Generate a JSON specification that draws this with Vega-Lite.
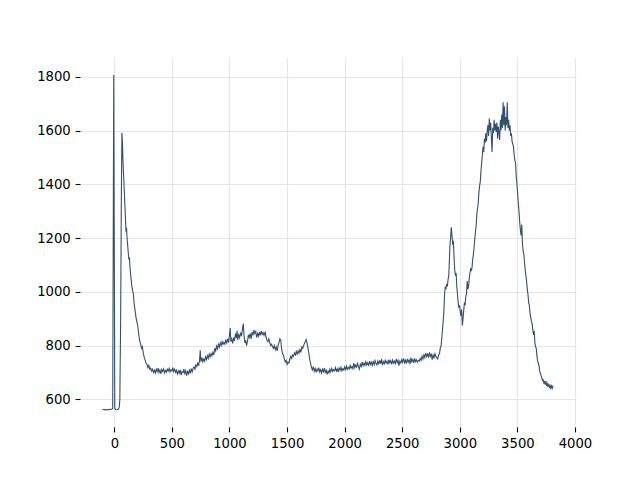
{
"$schema": "https://vega.github.io/schema/vega-lite/v6.json",
"width": 496, "height": 369,
"autosize": {"type": "none"},
"padding": {"left": 80, "top": 58, "right": 64, "bottom": 53},
"background": "white",
"config": {
 "view": {"stroke": null},
 "axis": {"domain": false, "grid": true, "gridColor": "#e6e6e6", "gridWidth": 1.1, "tickSize": 4.9, "tickWidth": 1.1, "tickColor": "#000000", "labelFont": "DejaVu Sans", "labelFontSize": 13.2, "labelColor": "#000000", "labelPadding": 4.9, "title": null, "format": "d"},
 "axisX": {"labelPadding": 5.5}
},
"data": {"values": [
{"x":-102,"y":561},{"x":-90,"y":563},{"x":-78,"y":560},{"x":-66,"y":562},{"x":-54,"y":561},{"x":-42,"y":563},{"x":-30,"y":562},{"x":-20,"y":564},{"x":-14,"y":566},{"x":-5,"y":1807},{"x":4,"y":566},{"x":12,"y":562},{"x":20,"y":561},{"x":28,"y":562},{"x":36,"y":564},{"x":43,"y":570},{"x":48,"y":600},{"x":55,"y":900},{"x":61,"y":1350},{"x":66,"y":1592},{"x":70,"y":1560},{"x":75,"y":1490},{"x":82,"y":1420},{"x":90,"y":1340},{"x":97,"y":1270},{"x":102,"y":1222},{"x":106,"y":1238},{"x":110,"y":1205},{"x":118,"y":1162},{"x":126,"y":1120},{"x":132,"y":1128},{"x":136,"y":1090},{"x":145,"y":1050},{"x":152,"y":1022},{"x":160,"y":1002},{"x":166,"y":992},{"x":172,"y":955},{"x":180,"y":932},{"x":188,"y":905},{"x":196,"y":888},{"x":204,"y":872},{"x":212,"y":842},{"x":220,"y":818},{"x":228,"y":806},{"x":236,"y":790},{"x":244,"y":796},{"x":252,"y":770},{"x":260,"y":756},{"x":268,"y":746},{"x":276,"y":734},{"x":284,"y":730},{"x":292,"y":718},{"x":300,"y":726},{"x":308,"y":712},{"x":316,"y":716},{"x":324,"y":705},{"x":332,"y":712},{"x":340,"y":700},{"x":348,"y":708},
{"x":356,"y":698},{"x":364,"y":712},{"x":372,"y":703},{"x":380,"y":716},{"x":388,"y":700},{"x":396,"y":709},{"x":404,"y":695},{"x":412,"y":711},{"x":420,"y":704},{"x":428,"y":713},{"x":436,"y":698},{"x":444,"y":707},{"x":452,"y":701},{"x":460,"y":712},{"x":468,"y":705},{"x":476,"y":715},{"x":484,"y":702},{"x":492,"y":710},{"x":500,"y":706},{"x":508,"y":718},{"x":516,"y":703},{"x":524,"y":712},{"x":532,"y":700},{"x":540,"y":708},{"x":548,"y":694},{"x":556,"y":705},{"x":564,"y":697},{"x":572,"y":710},{"x":580,"y":690},{"x":588,"y":703},{"x":596,"y":699},{"x":604,"y":712},{"x":612,"y":696},{"x":620,"y":706},{"x":628,"y":688},{"x":636,"y":703},{"x":644,"y":695},{"x":652,"y":708},{"x":660,"y":697},{"x":668,"y":714},{"x":676,"y":702},{"x":684,"y":716},
{"x":692,"y":720},{"x":700,"y":712},{"x":708,"y":728},{"x":716,"y":722},{"x":724,"y":735},{"x":732,"y":725},{"x":740,"y":745},{"x":746,"y":782},{"x":752,"y":740},{"x":760,"y":755},{"x":768,"y":740},{"x":776,"y":750},{"x":784,"y":742},{"x":792,"y":758},{"x":800,"y":748},{"x":808,"y":762},{"x":816,"y":752},{"x":824,"y":768},{"x":832,"y":758},{"x":840,"y":770},{"x":848,"y":762},{"x":856,"y":775},{"x":864,"y":765},{"x":872,"y":790},{"x":880,"y":780},{"x":888,"y":798},{"x":896,"y":788},{"x":904,"y":805},{"x":912,"y":795},{"x":920,"y":810},{"x":928,"y":800},{"x":936,"y":815},{"x":944,"y":805},{"x":952,"y":812},{"x":960,"y":805},{"x":968,"y":820},{"x":976,"y":810},{"x":984,"y":825},{"x":992,"y":812},{"x":1000,"y":840},{"x":1006,"y":865},{"x":1012,"y":815},{"x":1020,"y":825},{"x":1028,"y":808},{"x":1036,"y":830},{"x":1044,"y":818},{"x":1052,"y":845},{"x":1060,"y":828},{"x":1066,"y":855},{"x":1072,"y":822},{"x":1080,"y":840},{"x":1088,"y":830},{"x":1096,"y":848},{"x":1104,"y":835},{"x":1112,"y":860},{"x":1120,"y":882},{"x":1126,"y":838},{"x":1134,"y":810},{"x":1140,"y":820},{"x":1148,"y":800},{"x":1156,"y":815},{"x":1164,"y":840},{"x":1172,"y":830},{"x":1180,"y":845},{"x":1188,"y":825},{"x":1196,"y":850},{"x":1204,"y":838},{"x":1212,"y":858},{"x":1220,"y":845},{"x":1228,"y":852},{"x":1236,"y":830},{"x":1244,"y":845},{"x":1252,"y":835},{"x":1260,"y":850},{"x":1268,"y":838},{"x":1276,"y":855},{"x":1284,"y":842},{"x":1292,"y":848},{"x":1300,"y":838},{"x":1310,"y":852},{"x":1318,"y":830},{"x":1326,"y":820},{"x":1334,"y":815},{"x":1342,"y":825},{"x":1350,"y":810},{"x":1358,"y":800},{"x":1366,"y":805},{"x":1374,"y":795},{"x":1382,"y":790},{"x":1390,"y":800},{"x":1398,"y":785},{"x":1406,"y":795},{"x":1414,"y":780},{"x":1422,"y":800},{"x":1430,"y":812},{"x":1438,"y":825},{"x":1446,"y":818},{"x":1452,"y":790},{"x":1460,"y":770},{"x":1468,"y":765},{"x":1476,"y":750},{"x":1484,"y":740},{"x":1492,"y":745},{"x":1500,"y":730},{"x":1508,"y":738},{"x":1516,"y":735},{"x":1524,"y":750},{"x":1532,"y":760},{"x":1540,"y":752},{"x":1548,"y":765},{"x":1556,"y":760},{"x":1564,"y":772},{"x":1572,"y":765},{"x":1580,"y":778},{"x":1588,"y":768},{"x":1596,"y":780},{"x":1604,"y":772},{"x":1612,"y":785},{"x":1620,"y":775},{"x":1628,"y":795},{"x":1636,"y":790},{"x":1644,"y":800},{"x":1652,"y":810},{"x":1660,"y":815},{"x":1666,"y":822},{"x":1672,"y":812},{"x":1680,"y":795},{"x":1688,"y":775},{"x":1696,"y":750},{"x":1704,"y":735},{"x":1712,"y":718},{"x":1720,"y":710},{"x":1728,"y":722},{"x":1736,"y":705},{"x":1744,"y":715},{"x":1752,"y":700},{"x":1760,"y":712},{"x":1768,"y":706},{"x":1776,"y":718},{"x":1784,"y":702},{"x":1792,"y":710},{"x":1800,"y":698},{"x":1808,"y":712},{"x":1816,"y":703},{"x":1824,"y":716},{"x":1832,"y":700},{"x":1840,"y":708},{"x":1848,"y":693},{"x":1856,"y":705},{"x":1864,"y":698},{"x":1872,"y":712},{"x":1880,"y":702},{"x":1888,"y":715},{"x":1896,"y":704},{"x":1904,"y":710},{"x":1912,"y":706},{"x":1920,"y":718},{"x":1928,"y":705},{"x":1936,"y":713},{"x":1944,"y":701},{"x":1952,"y":716},{"x":1960,"y":708},{"x":1968,"y":719},{"x":1976,"y":706},{"x":1984,"y":714},{"x":1992,"y":709},{"x":2000,"y":720},{"x":2008,"y":710},{"x":2016,"y":723},{"x":2024,"y":712},{"x":2032,"y":719},{"x":2040,"y":713},{"x":2048,"y":726},{"x":2056,"y":716},{"x":2064,"y":722},{"x":2072,"y":714},{"x":2080,"y":735},{"x":2088,"y":718},{"x":2096,"y":728},{"x":2104,"y":720},{"x":2112,"y":733},{"x":2120,"y":722},{"x":2128,"y":712},{"x":2136,"y":730},{"x":2144,"y":722},{"x":2152,"y":738},{"x":2160,"y":725},{"x":2168,"y":735},{"x":2176,"y":726},{"x":2184,"y":740},{"x":2192,"y":728},{"x":2200,"y":736},{"x":2208,"y":724},{"x":2216,"y":742},{"x":2224,"y":730},{"x":2232,"y":738},{"x":2240,"y":726},{"x":2248,"y":740},{"x":2256,"y":729},{"x":2264,"y":744},{"x":2272,"y":733},{"x":2280,"y":728},{"x":2288,"y":742},{"x":2296,"y":730},{"x":2304,"y":745},{"x":2312,"y":733},{"x":2320,"y":750},{"x":2328,"y":727},{"x":2336,"y":740},{"x":2344,"y":732},{"x":2352,"y":745},{"x":2360,"y":735},{"x":2368,"y":742},{"x":2376,"y":730},{"x":2384,"y":748},{"x":2392,"y":736},{"x":2400,"y":744},{"x":2408,"y":730},{"x":2416,"y":746},{"x":2424,"y":735},{"x":2432,"y":742},{"x":2440,"y":733},{"x":2448,"y":750},{"x":2456,"y":736},{"x":2464,"y":745},{"x":2472,"y":725},{"x":2480,"y":742},{"x":2488,"y":735},{"x":2496,"y":748},{"x":2504,"y":738},{"x":2512,"y":752},{"x":2520,"y":736},{"x":2528,"y":745},{"x":2536,"y":733},{"x":2544,"y":750},{"x":2552,"y":738},{"x":2560,"y":746},{"x":2568,"y":732},{"x":2576,"y":755},{"x":2584,"y":740},{"x":2592,"y":748},{"x":2600,"y":736},{"x":2608,"y":752},{"x":2616,"y":740},{"x":2624,"y":747},{"x":2632,"y":738},{"x":2640,"y":745},{"x":2648,"y":742},{"x":2656,"y":752},{"x":2664,"y":745},{"x":2672,"y":760},{"x":2680,"y":750},{"x":2688,"y":765},{"x":2696,"y":755},{"x":2704,"y":772},{"x":2712,"y":760},{"x":2720,"y":768},{"x":2728,"y":755},{"x":2736,"y":775},{"x":2744,"y":760},{"x":2752,"y":770},{"x":2760,"y":748},{"x":2768,"y":765},{"x":2776,"y":755},{"x":2784,"y":770},{"x":2792,"y":760},{"x":2800,"y":755},{"x":2808,"y":750},{"x":2816,"y":765},{"x":2824,"y":770},{"x":2830,"y":790},{"x":2838,"y":800},{"x":2846,"y":840},{"x":2854,"y":880},{"x":2862,"y":930},{"x":2868,"y":990},{"x":2874,"y":1020},{"x":2880,"y":1010},{"x":2886,"y":1030},{"x":2892,"y":1020},{"x":2898,"y":1045},{"x":2904,"y":1060},{"x":2910,"y":1120},{"x":2914,"y":1170},{"x":2920,"y":1200},{"x":2926,"y":1240},{"x":2932,"y":1210},{"x":2938,"y":1180},{"x":2944,"y":1185},{"x":2950,"y":1130},{"x":2956,"y":1080},{"x":2962,"y":1060},{"x":2968,"y":1070},{"x":2974,"y":1020},{"x":2980,"y":990},{"x":2986,"y":960},{"x":2992,"y":940},{"x":2998,"y":950},{"x":3004,"y":925},{"x":3010,"y":910},{"x":3016,"y":935},{"x":3022,"y":875},{"x":3028,"y":900},{"x":3034,"y":930},{"x":3040,"y":960},{"x":3046,"y":950},{"x":3052,"y":985},{"x":3058,"y":990},{"x":3064,"y":1040},{"x":3070,"y":1010},{"x":3076,"y":1020},{"x":3082,"y":1050},{"x":3088,"y":1070},{"x":3094,"y":1085},{"x":3100,"y":1080},{"x":3106,"y":1090},{"x":3112,"y":1120},{"x":3118,"y":1140},{"x":3124,"y":1165},{"x":3130,"y":1195},{"x":3136,"y":1225},{"x":3142,"y":1245},{"x":3148,"y":1290},{"x":3154,"y":1310},{"x":3160,"y":1330},{"x":3166,"y":1370},{"x":3172,"y":1395},{"x":3178,"y":1410},{"x":3184,"y":1450},{"x":3190,"y":1480},{"x":3196,"y":1510},{"x":3202,"y":1540},{"x":3208,"y":1520},{"x":3214,"y":1570},{"x":3220,"y":1555},{"x":3226,"y":1590},{"x":3232,"y":1560},{"x":3238,"y":1600},{"x":3244,"y":1620},{"x":3250,"y":1580},{"x":3256,"y":1645},{"x":3262,"y":1600},{"x":3268,"y":1630},{"x":3274,"y":1575},{"x":3280,"y":1520},{"x":3286,"y":1610},{"x":3292,"y":1590},{"x":3298,"y":1640},{"x":3304,"y":1600},{"x":3310,"y":1625},{"x":3316,"y":1595},{"x":3322,"y":1630},{"x":3328,"y":1570},{"x":3334,"y":1615},{"x":3340,"y":1590},{"x":3346,"y":1565},{"x":3352,"y":1640},{"x":3358,"y":1600},{"x":3364,"y":1660},{"x":3370,"y":1610},{"x":3376,"y":1705},{"x":3382,"y":1620},{"x":3388,"y":1690},{"x":3394,"y":1600},{"x":3400,"y":1650},{"x":3406,"y":1620},{"x":3412,"y":1705},{"x":3418,"y":1610},{"x":3424,"y":1640},{"x":3430,"y":1600},{"x":3436,"y":1620},{"x":3442,"y":1580},{"x":3448,"y":1590},{"x":3454,"y":1560},{"x":3460,"y":1550},{"x":3466,"y":1540},{"x":3472,"y":1510},{"x":3478,"y":1490},{"x":3484,"y":1480},{"x":3490,"y":1430},{"x":3496,"y":1400},{"x":3502,"y":1370},{"x":3508,"y":1330},{"x":3514,"y":1300},{"x":3520,"y":1260},{"x":3526,"y":1230},{"x":3532,"y":1210},{"x":3538,"y":1250},{"x":3544,"y":1180},{"x":3550,"y":1150},{"x":3556,"y":1140},{"x":3562,"y":1110},{"x":3568,"y":1080},{"x":3574,"y":1060},{"x":3580,"y":1040},{"x":3586,"y":1010},{"x":3592,"y":990},{"x":3598,"y":960},{"x":3604,"y":950},{"x":3610,"y":920},{"x":3616,"y":905},{"x":3622,"y":890},{"x":3628,"y":880},{"x":3634,"y":860},{"x":3640,"y":840},{"x":3646,"y":855},{"x":3652,"y":810},{"x":3658,"y":795},{"x":3664,"y":790},{"x":3670,"y":760},{"x":3676,"y":740},{"x":3682,"y":735},{"x":3688,"y":725},{"x":3694,"y":705},{"x":3700,"y":695},{"x":3706,"y":688},{"x":3712,"y":680},{"x":3718,"y":670},{"x":3724,"y":672},{"x":3730,"y":660},{"x":3736,"y":665},{"x":3742,"y":655},{"x":3748,"y":668},{"x":3754,"y":650},{"x":3760,"y":658},{"x":3766,"y":648},{"x":3772,"y":655},{"x":3778,"y":645},{"x":3784,"y":652},{"x":3790,"y":642},{"x":3796,"y":650},{"x":3802,"y":640},{"x":3808,"y":648},{"x":3812,"y":645}
]},
"mark": {"type": "line", "color": "#33506f", "strokeWidth": 1.1, "clip": true},
"encoding": {
 "x": {"field": "x", "type": "quantitative", "scale": {"domain": [-298, 4009], "nice": false, "zero": false}, "axis": {"values": [0,500,1000,1500,2000,2500,3000,3500,4000]}},
 "y": {"field": "y", "type": "quantitative", "scale": {"domain": [497, 1870], "nice": false, "zero": false}, "axis": {"values": [600,800,1000,1200,1400,1600,1800]}}
}
}
